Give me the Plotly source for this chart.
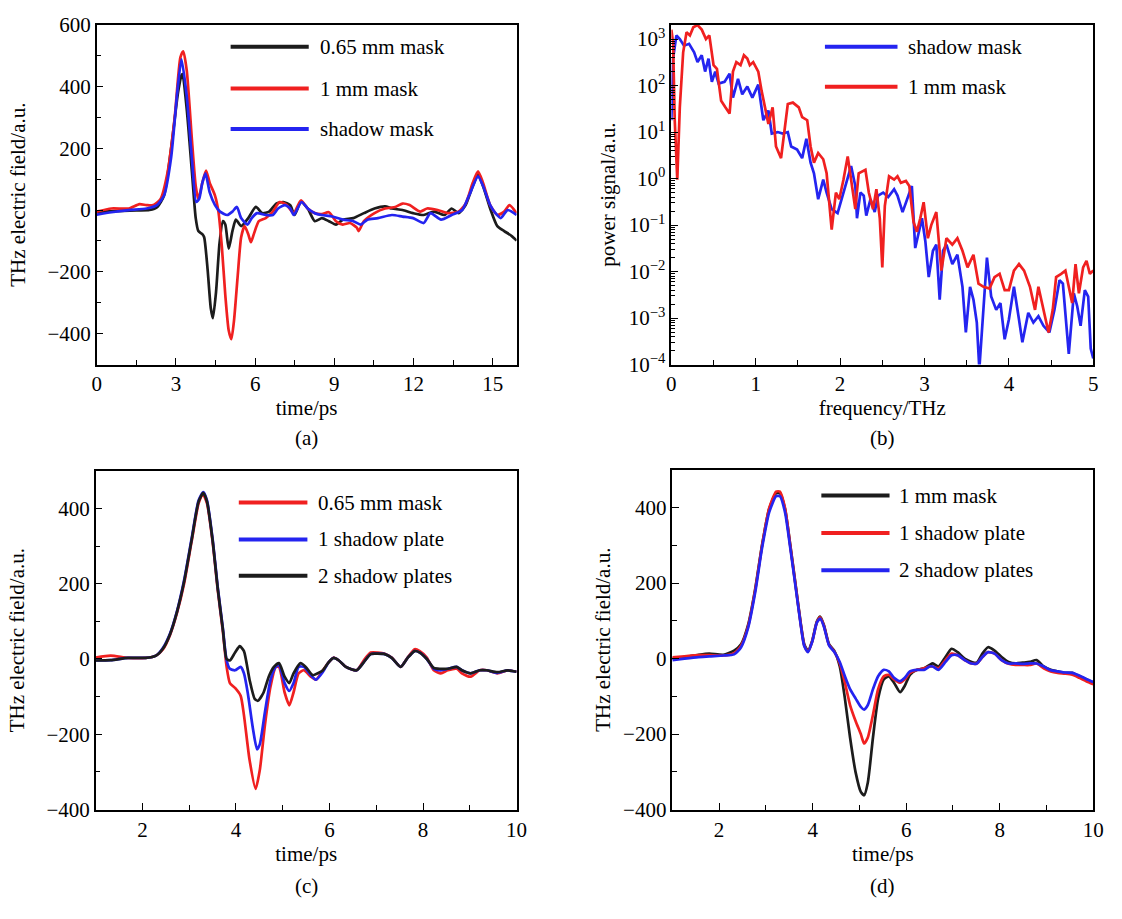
import plotly.graph_objects as go

FONT = "Liberation Serif, Times New Roman, serif"
BLACK = "#1c1c1c"
RED = "#f02020"
BLUE = "#2424f0"

# ---------------- (a) time-domain traces, 0-16 ps ----------------
a_t_065 = [0, 0.5, 1.0, 1.5, 2.0, 2.3, 2.55, 2.82, 3.08, 3.21, 3.25, 3.41, 3.61, 3.75, 3.85,
           4.0, 4.07, 4.2, 4.32, 4.4, 4.52, 4.65, 4.78, 4.87, 5.0, 5.14, 5.27, 5.47, 5.74, 6.03,
           6.27, 6.53, 6.8, 7.07, 7.33, 7.49, 7.73, 7.99, 8.26, 8.53, 8.79, 9.06, 9.32, 9.72, 10.12,
           10.52, 10.92, 11.18, 11.58, 11.98, 12.38, 12.78, 13.17, 13.44, 13.7, 13.97, 14.24, 14.44,
           14.63, 14.9, 15.17, 15.43, 15.7, 15.9]
a_e_065 = [-5, -4, -3, -1, 0, 10, 47, 200, 380, 436, 440, 327, 120, -26, -68,
           -78, -88, -192, -317, -350, -265, -109, -36, -47, -125, -68, -31, -52, -26, 10,
           -10, -5, 21, 26, 16, -16, 26, 5, -36, -26, -36, -47, -31, -26, -10,
           5, 12, 5, 0, -10, -16, -5, -16, 5, -10, 16, 78, 114,
           78, 5, -52, -68, -83, -99]

a_t_1mm = [0, 0.56, 1.22, 1.62, 1.89, 2.15, 2.42, 2.68, 2.95, 3.17, 3.28, 3.41, 3.61, 3.75, 3.85,
           4.0, 4.14, 4.28, 4.48, 4.61, 4.74, 4.87, 5.0, 5.1, 5.2, 5.34, 5.47, 5.6, 5.74, 5.84,
           5.95, 6.14, 6.4, 6.67, 6.93, 7.2, 7.46, 7.73, 7.99, 8.26, 8.53, 8.79, 9.06, 9.32, 9.59,
           9.85, 9.92, 10.12, 10.52, 10.92, 11.31, 11.58, 11.85, 12.25, 12.51, 12.91, 13.3, 13.7,
           13.97, 14.24, 14.44, 14.63, 14.9, 15.17, 15.43, 15.63, 15.9]
a_e_1mm = [-5, 5, 5, 19, 16, 16, 36, 120, 296, 494, 514, 452, 223, 78, 36,
           88, 128, 88, 47, -5, -119, -275, -390, -418, -358, -213, -88, -52, -78, -104,
           -78, -36, -26, -5, 26, 16, -10, 31, 5, -10, -13, -7, -36, -47, -42,
           -57, -68, -36, -10, 5, 10, 21, 16, -5, 5, 0, -10, -5,
           21, 88, 125, 88, 16, -16, -5, 16, -10]

a_t_shadow = [0, 0.56, 1.22, 1.89, 2.28, 2.55, 2.82, 3.05, 3.21, 3.41, 3.61, 3.77, 3.88, 4.0, 4.12,
              4.28, 4.48, 4.67, 4.94, 5.14, 5.31, 5.47, 5.71, 5.87, 6.07, 6.4, 6.67, 6.87, 7.13, 7.33,
              7.46, 7.76, 7.99, 8.26, 8.53, 8.92, 9.32, 9.72, 9.99, 10.25, 10.65, 11.18, 11.58, 11.98,
              12.38, 12.64, 13.04, 13.44, 13.84, 14.1, 14.44, 14.63, 14.9, 15.1, 15.3, 15.56, 15.9]
a_e_shadow = [-15, -7, 0, 5, 16, 47, 171, 380, 488, 369, 161, 26, 36, 88, 119,
              57, 16, -5, -16, -5, 10, -26, -47, -26, -10, -16, -16, 5, 16, 5,
              -16, 26, 5, -10, -16, -21, -31, -36, -47, -31, -26, -16, -21, -26,
              -42, -10, -31, -16, 0, 47, 109, 78, 16, -10, -26, 0, -16]

# ---------------- (b) power spectra, 0-5 THz ----------------
b_f_shadow = [0, 0.02, 0.06, 0.10, 0.15, 0.21, 0.27, 0.31, 0.36, 0.40,
              0.44, 0.48, 0.52, 0.56, 0.63, 0.69, 0.73, 0.79, 0.84, 0.90,
              0.96, 1.03, 1.09, 1.15, 1.19, 1.26, 1.32, 1.38, 1.42, 1.49,
              1.55, 1.60, 1.65, 1.69, 1.74, 1.80, 1.84, 1.90, 1.97, 2.03,
              2.09, 2.13, 2.18, 2.20, 2.24, 2.28, 2.31, 2.36, 2.41, 2.45,
              2.51, 2.57, 2.64, 2.68, 2.74, 2.80, 2.85, 2.89, 2.93, 2.97,
              3.01, 3.05, 3.10, 3.14, 3.18, 3.22, 3.26, 3.33, 3.39, 3.45,
              3.49, 3.54, 3.58, 3.62, 3.65, 3.70, 3.74, 3.79, 3.85, 3.90,
              3.95, 4.00, 4.06, 4.12, 4.16, 4.23, 4.29, 4.35, 4.41, 4.48,
              4.54, 4.60, 4.64, 4.71, 4.77, 4.81, 4.85, 4.90, 4.94, 4.97, 5.0]
b_p_shadow = [18, 380, 1200, 1000, 720, 790, 520, 320, 450, 200,
              380, 120, 200, 110, 120, 180, 55, 140, 65, 95,
              55, 105, 18, 29, 9.3, 10, 9.3, 10, 4.9, 4.2,
              2.75, 7.2, 2.2, 1.3, 0.36, 0.95, 0.5, 0.22, 0.18, 0.43,
              1.12, 1.86, 0.69, 0.14, 0.5, 0.43, 0.16, 0.36, 0.19, 0.43,
              0.5, 0.4, 0.59, 0.43, 0.19, 0.4, 0.69, 0.032, 0.062, 0.14,
              0.045, 0.0076, 0.028, 0.038, 0.0025, 0.028, 0.038, 0.0145, 0.023, 0.0047,
              0.00049, 0.0047, 0.0025, 0.0008, 0.00008, 0.0015, 0.02, 0.0029, 0.0015, 0.0021,
              0.00035, 0.00093, 0.0047, 0.00093, 0.0003, 0.0013, 0.0008, 0.0011, 0.00068, 0.00049,
              0.0015, 0.0065, 0.0055, 0.00017, 0.0034, 0.0018, 0.00068, 0.004, 0.0029, 0.00022, 0.000135]

b_f_1mm = [0, 0.02, 0.04, 0.07, 0.10, 0.14, 0.18, 0.22, 0.26, 0.31,
           0.36, 0.41, 0.45, 0.50, 0.54, 0.59, 0.64, 0.69, 0.73, 0.77,
           0.82, 0.86, 0.90, 0.93, 0.97, 1.03, 1.07, 1.11, 1.15, 1.20,
           1.24, 1.30, 1.34, 1.38, 1.44, 1.51, 1.55, 1.61, 1.65, 1.69,
           1.74, 1.80, 1.84, 1.90, 1.95, 1.99, 2.04, 2.09, 2.13, 2.18,
           2.22, 2.26, 2.30, 2.34, 2.39, 2.43, 2.47, 2.50, 2.53, 2.58,
           2.64, 2.68, 2.72, 2.78, 2.82, 2.87, 2.91, 2.95, 2.99, 3.04,
           3.08, 3.14, 3.20, 3.26, 3.33, 3.39, 3.45, 3.51, 3.58, 3.64,
           3.70, 3.77, 3.83, 3.89, 3.95, 4.00, 4.06, 4.12, 4.18, 4.25,
           4.31, 4.35, 4.41, 4.47, 4.52, 4.56, 4.62, 4.67, 4.71, 4.75,
           4.79, 4.83, 4.88, 4.92, 4.96, 5.0]
b_p_1mm = [1600, 850, 18, 0.95, 34, 520, 1400, 1200, 1800, 2000,
           1600, 1000, 1200, 275, 230, 47, 34, 25, 200, 320,
           275, 450, 380, 275, 320, 200, 76, 34, 15, 34,
           4.9, 2.75, 11, 40, 43, 34, 21, 18, 4.9, 2.2,
           3.55, 2.6, 1.3, 0.08, 0.5, 0.36, 0.95, 3.0, 0.95, 0.22,
           1.3, 1.45, 1.55, 0.5, 0.22, 0.59, 0.14, 0.0123, 0.26, 1.12,
           0.95, 1.12, 0.81, 0.89, 0.69, 0.117, 0.072, 0.14, 0.31, 0.052,
           0.1, 0.19, 0.0105, 0.052, 0.038, 0.052, 0.028, 0.0123, 0.023, 0.0055,
           0.0047, 0.0043, 0.0076, 0.0089, 0.004, 0.004, 0.0105, 0.0145, 0.0105, 0.0047,
           0.0015, 0.0047, 0.0015, 0.00049, 0.0015, 0.0076, 0.0089, 0.0105, 0.0047, 0.0021,
           0.0145, 0.0034, 0.0123, 0.017, 0.0089, 0.0105]

# ---------------- (c) mask vs. shadow plates, 1-10 ps ----------------
c_t_065 = [1.0, 1.32, 1.69, 2.07, 2.29, 2.44, 2.59, 2.74, 2.89, 3.05, 3.2, 3.29, 3.38, 3.5, 3.61,
           3.72, 3.8, 3.87, 3.98, 4.1, 4.17, 4.29, 4.42, 4.51, 4.62, 4.74, 4.85, 4.92, 5.04, 5.14,
           5.23, 5.34, 5.45, 5.6, 5.71, 5.86, 5.98, 6.09, 6.2, 6.35, 6.58, 6.73, 6.88, 7.03, 7.18,
           7.33, 7.52, 7.67, 7.82, 7.93, 8.08, 8.23, 8.38, 8.53, 8.72, 8.83, 9.02, 9.21, 9.36, 9.59,
           9.81, 10.0]
c_e_065 = [4, 9, 3, 3, 9, 26, 64, 123, 200, 311, 413, 438, 413, 311, 183,
           72, -21, -64, -77, -98, -149, -268, -345, -294, -174, -72, -21, -21, -89, -123,
           -89, -38, -30, -47, -55, -30, -9, 4, -4, -21, -30, -4, 17, 17, 14,
           4, -21, 4, 26, 21, 4, -30, -38, -30, -26, -38, -47, -30, -30, -38,
           -30, -34]

c_t_1plate = [1.0, 1.32, 1.69, 2.07, 2.29, 2.44, 2.59, 2.74, 2.89, 3.05, 3.2, 3.3, 3.38, 3.5, 3.61,
              3.72, 3.8, 3.87, 3.98, 4.1, 4.17, 4.25, 4.36, 4.45, 4.51, 4.62, 4.74, 4.85, 4.92, 5.04,
              5.14, 5.23, 5.34, 5.45, 5.6, 5.71, 5.86, 5.98, 6.09, 6.2, 6.35, 6.58, 6.73, 6.88, 7.03,
              7.18, 7.33, 7.52, 7.67, 7.82, 7.93, 8.08, 8.23, 8.38, 8.53, 8.72, 8.83, 9.02, 9.21, 9.36,
              9.59, 9.81, 10.0]
c_e_1plate = [-4, -3, 3, 3, 9, 30, 68, 128, 209, 319, 421, 443, 421, 319, 191,
              81, -4, -26, -30, -21, -38, -89, -183, -240, -226, -140, -55, -21, -17, -64,
              -85, -64, -21, -21, -43, -55, -34, -9, 3, -4, -21, -30, -9, 13, 14,
              13, 3, -21, 3, 21, 17, 0, -26, -30, -26, -21, -30, -38, -30, -30,
              -37, -30, -34]

c_t_2plates = [1.0, 1.32, 1.69, 2.07, 2.29, 2.44, 2.59, 2.74, 2.89, 3.05, 3.2, 3.3, 3.38, 3.5, 3.61,
               3.72, 3.8, 3.87, 3.98, 4.08, 4.17, 4.29, 4.4, 4.47, 4.59, 4.7, 4.81, 4.92, 5.04, 5.14,
               5.23, 5.38, 5.49, 5.64, 5.75, 5.86, 5.98, 6.09, 6.2, 6.35, 6.58, 6.73, 6.88, 7.03, 7.18,
               7.33, 7.52, 7.67, 7.82, 7.93, 8.08, 8.23, 8.38, 8.53, 8.72, 8.83, 9.02, 9.21, 9.36, 9.59,
               9.81, 10.0]
c_e_2plates = [-4, -3, 3, 3, 9, 28, 66, 126, 205, 315, 418, 441, 418, 315, 187,
               78, 0, -4, 17, 34, 21, -55, -106, -111, -89, -47, -21, -11, -47, -64,
               -38, -11, -21, -43, -38, -30, -9, 3, -4, -21, -30, -9, 13, 14, 13,
               3, -21, 3, 21, 17, 0, -24, -26, -26, -21, -30, -38, -30, -30, -35,
               -30, -34]

# ---------------- (d) 1 mm mask vs. shadow plates, 1-10 ps ----------------
d_time = [1.0, 1.26, 1.56, 1.79, 2.09, 2.32, 2.47, 2.62, 2.77, 2.92, 3.07, 3.22, 3.3, 3.41, 3.52,
          3.64, 3.75, 3.82, 3.9, 3.99, 4.09, 4.16, 4.24, 4.35, 4.46, 4.58, 4.69, 4.8, 4.92, 5.03,
          5.1, 5.18, 5.29, 5.4, 5.52, 5.63, 5.74, 5.87, 5.97, 6.08, 6.23, 6.38, 6.5, 6.57, 6.69,
          6.84, 6.97, 7.1, 7.25, 7.4, 7.51, 7.63, 7.75, 7.89, 8.04, 8.19, 8.34, 8.49, 8.64, 8.79,
          8.94, 9.09, 9.24, 9.4, 9.55, 9.7, 9.85, 10.0]
d_e_1mm = [0, 4, 10, 13, 10, 21, 38, 89, 183, 302, 396, 438, 438, 396, 302,
           191, 89, 38, 21, 47, 98, 111, 89, 38, 21, -21, -106, -209, -302, -353,
           -362, -328, -209, -106, -55, -47, -64, -89, -72, -43, -30, -26, -17, -13, -21,
           4, 26, 17, 0, -9, -11, 13, 30, 21, 4, -9, -13, -11, -9, -4,
           -21, -30, -34, -38, -38, -47, -55, -64]
d_e_1plate = [3, 6, 9, 9, 8, 14, 34, 85, 180, 300, 398, 442, 442, 398, 300,
              189, 87, 35, 18, 45, 96, 109, 87, 36, 19, -13, -64, -123, -166, -200,
              -225, -209, -149, -81, -47, -43, -55, -64, -55, -38, -30, -26, -21, -21, -26,
              -4, 13, 9, -4, -13, -13, 4, 17, 13, -4, -14, -17, -17, -17, -13,
              -26, -34, -38, -40, -43, -51, -60, -68]
d_e_2plates = [-4, 0, 4, 6, 8, 11, 30, 81, 174, 294, 387, 430, 430, 387, 294,
               185, 85, 33, 17, 44, 95, 106, 85, 35, 18, -9, -47, -81, -106, -128,
               -135, -123, -81, -47, -30, -34, -51, -60, -51, -34, -30, -30, -21, -21, -30,
               -9, 9, 9, -4, -13, -13, 4, 17, 13, -4, -13, -13, -14, -13, -13,
               -21, -31, -34, -37, -38, -45, -54, -62]

# labelled y ticks of the time-domain panels
field_ticks_a = [-400, -200, 0, 200, 400, 600]
field_ticks_cd = [-400, -200, 0, 200, 400]

for xs, ys in [(a_t_065, a_e_065), (a_t_1mm, a_e_1mm), (a_t_shadow, a_e_shadow),
               (b_f_shadow, b_p_shadow), (b_f_1mm, b_p_1mm),
               (c_t_065, c_e_065), (c_t_1plate, c_e_1plate), (c_t_2plates, c_e_2plates),
               (d_time, d_e_1mm), (d_time, d_e_1plate), (d_time, d_e_2plates)]:
    assert len(xs) == len(ys)

# panel -> list of (x, y, legend label, colour)
panels = {
    "a": [(a_t_065, a_e_065, "0.65 mm mask", BLACK),
          (a_t_1mm, a_e_1mm, "1 mm mask", RED),
          (a_t_shadow, a_e_shadow, "shadow mask", BLUE)],
    "b": [(b_f_shadow, b_p_shadow, "shadow mask", BLUE),
          (b_f_1mm, b_p_1mm, "1 mm mask", RED)],
    "c": [(c_t_065, c_e_065, "0.65 mm mask", RED),
          (c_t_1plate, c_e_1plate, "1 shadow plate", BLUE),
          (c_t_2plates, c_e_2plates, "2 shadow plates", BLACK)],
    "d": [(d_time, d_e_1mm, "1 mm mask", BLACK),
          (d_time, d_e_1plate, "1 shadow plate", RED),
          (d_time, d_e_2plates, "2 shadow plates", BLUE)],
}
axis_ids = {"a": "", "b": "2", "c": "3", "d": "4"}

W, H = 1122, 919
# plot-area boxes in pixels: left, right, top, bottom
boxes = {"a": (93, 519, 13, 362), "b": (676, 1104, 13, 362),
         "c": (92, 519, 471, 819), "d": (677, 1104, 470, 819)}
y_standoff = {"a": 16, "b": 7, "c": 16, "d": 7}


def signed(v):
    return str(v).replace("-", "\u2212")


fig = go.Figure()
for key, series in panels.items():
    sfx = axis_ids[key]
    for xs, ys, name, col in series:
        fig.add_trace(go.Scatter(
            x=xs, y=ys, mode="lines", name=name, showlegend=False,
            line=dict(color=col, width=2.7,
                      shape="linear" if key == "b" else "spline", smoothing=0.6),
            xaxis="x" + sfx, yaxis="y" + sfx))

tick_font = dict(family=FONT, size=21, color="black")
title_font = dict(family=FONT, size=21, color="black")
base = dict(showline=True, linecolor="black", linewidth=1.5, mirror=True,
            ticks="inside", ticklen=7, tickwidth=1.3, tickcolor="black",
            showgrid=False, zeroline=False, tickfont=tick_font)
minor_lin = dict(ticks="inside", ticklen=5, tickwidth=1.2, tickcolor="black", showgrid=False)

x_specs = {
    "a": dict(range=[0, 15.9], dtick=3, minor=dict(minor_lin, dtick=1.5), title="time/ps"),
    "b": dict(range=[0, 5], dtick=1, minor=dict(minor_lin, dtick=0.5), title="frequency/THz"),
    "c": dict(range=[1, 10], tick0=0, dtick=2, minor=dict(minor_lin, dtick=1), title="time/ps"),
    "d": dict(range=[1, 10], tick0=0, dtick=2, minor=dict(minor_lin, dtick=1), title="time/ps"),
}
log_major = [10.0 ** k for k in range(-4, 4)]
log_text = ["10<sup>" + signed(k) + "</sup>" for k in range(-4, 4)]
log_minor = [m * 10.0 ** k for k in range(-4, 4) for m in range(2, 10)]
y_specs = {
    "a": dict(range=[-500, 600], tickmode="array", tickvals=field_ticks_a,
              ticktext=[signed(v) for v in field_ticks_a],
              minor=dict(minor_lin, tickmode="linear", tick0=0, dtick=100),
              title="THz electric field/a.u."),
    "b": dict(type="log", range=[-4, 3.31], tickmode="array", tickvals=log_major, ticktext=log_text,
              minor=dict(minor_lin, tickmode="array", tickvals=log_minor, ticklen=4),
              title="power signal/a.u."),
    "c": dict(range=[-400, 500], tickmode="array", tickvals=field_ticks_cd,
              ticktext=[signed(v) for v in field_ticks_cd],
              minor=dict(minor_lin, tickmode="linear", tick0=0, dtick=100),
              title="THz electric field/a.u."),
    "d": dict(range=[-400, 500], tickmode="array", tickvals=field_ticks_cd,
              ticktext=[signed(v) for v in field_ticks_cd],
              minor=dict(minor_lin, tickmode="linear", tick0=0, dtick=100),
              title="THz electric field/a.u."),
}

layout = dict(width=W, height=H, margin=dict(l=0, r=0, t=0, b=0),
              paper_bgcolor="white", plot_bgcolor="white", showlegend=False)
for key, (l, r, t, b) in boxes.items():
    sfx = axis_ids[key]
    xs = dict(x_specs[key])
    ys = dict(y_specs[key])
    xt = xs.pop("title")
    yt = ys.pop("title")
    layout["xaxis" + sfx] = dict(base, **xs, domain=[l / W, r / W], anchor="y" + sfx,
                                 title=dict(text=xt, font=title_font, standoff=5))
    layout["yaxis" + sfx] = dict(base, **ys, domain=[1 - b / H, 1 - t / H], anchor="x" + sfx,
                                 title=dict(text=yt, font=title_font, standoff=y_standoff[key]))
fig.update_layout(**layout)

# panel captions
captions = {"a": 437, "b": 437, "c": 897, "d": 897}
for key, cy in captions.items():
    l, r, t, b = boxes[key]
    fig.add_annotation(text="(" + key + ")", xref="paper", yref="paper",
                       x=(l + r) / 2 / W, y=1 - cy / H, showarrow=False,
                       xanchor="center", yanchor="middle", font=title_font)

# in-plot legends: line swatch + label, positioned in axis-domain fractions
legend_pos = {
    "a": dict(x0=0.319, x1=0.505, tx=0.526, rows=[0.935, 0.812, 0.693]),
    "b": dict(x0=0.364, x1=0.536, tx=0.555, rows=[0.935, 0.817]),
    "c": dict(x0=0.340, x1=0.503, tx=0.524, rows=[0.906, 0.797, 0.690]),
    "d": dict(x0=0.354, x1=0.516, tx=0.533, rows=[0.924, 0.814, 0.704]),
}
for key, series in panels.items():
    sfx = axis_ids[key]
    pos = legend_pos[key]
    for (xs, ys, name, col), ry in zip(series, pos["rows"]):
        fig.add_shape(type="line", xref="x" + sfx + " domain", yref="y" + sfx + " domain",
                      x0=pos["x0"], x1=pos["x1"], y0=ry, y1=ry,
                      line=dict(color=col, width=4))
        fig.add_annotation(text=name, xref="x" + sfx + " domain", yref="y" + sfx + " domain",
                           x=pos["tx"], y=ry, showarrow=False, xanchor="left",
                           yanchor="middle", font=dict(family=FONT, size=21, color="black"))

fig.write_html("out.html")
